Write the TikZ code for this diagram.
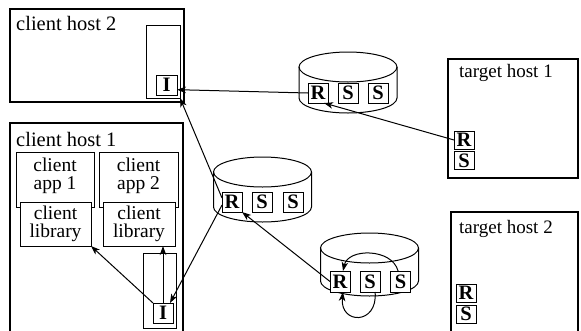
\documentclass[tikz,border=0pt]{standalone}
\usepackage{fontspec}
\setmainfont{Liberation Serif}
\usetikzlibrary{arrows.meta}
\newcommand\drumshape[3]{%
  \draw[drum] (#1,#2) ellipse [x radius=49pt, y radius=15pt];
  \draw[drum] (#1-49,#2) -- (#1-49,#3) arc[start angle=180,end angle=360,x radius=49pt,y radius=15pt] -- (#1+49,#2);
}
\begin{document}
\begin{tikzpicture}[x=1pt,y=-1pt,
 host/.style={draw,line width=1.4pt,anchor=north west,inner sep=0,outer sep=0},
 inbox/.style={draw,line width=1pt,anchor=north west,inner sep=0,outer sep=0,fill=white},
 tag/.style={draw,line width=0.9pt,fill=white,inner sep=0,outer sep=0,minimum width=20pt,minimum height=20pt,font=\fontsize{20.5}{20}\selectfont\bfseries},
 lbl/.style={anchor=base west,inner sep=0,font=\fontsize{20.5}{20}\selectfont},
 btxt/.style={align=center,inner sep=0,font=\fontsize{19.5}{18}\selectfont},
 drum/.style={line width=1pt},
 arr/.style={line width=1pt,-{Stealth[length=9pt,width=6.5pt,inset=2.5pt]}}
]
\useasboundingbox (0,0) rectangle (581,330);
\clip (0,0) rectangle (581,330);
% hosts
\node[host,minimum width=174pt,minimum height=93pt] (ch2) at (10,9) {};
\node[lbl] (ch2l) at (16,30) {client host 2};
\node[inbox,minimum width=34pt,minimum height=73pt] (c2T) at (146,25) {};
\node[tag,minimum width=21pt] (c2I) at (166.5,85) {I};

\node[host,minimum width=173pt,minimum height=230pt] (ch1) at (10,123) {};
\node[lbl] (ch1l) at (16,146) {client host 1};
\node[inbox,minimum width=78pt,minimum height=55pt] (app1) at (16,152) {};
\node[btxt] (app1t) at (55,176) {client\\app 1};
\node[inbox,minimum width=71pt,minimum height=44pt,btxt,anchor=north west] (lib1) at (20,202) {client\\library};
\node[inbox,minimum width=79pt,minimum height=55pt] (app2) at (99,152) {};
\node[btxt] (app2t) at (138.5,176) {client\\app 2};
\node[inbox,minimum width=72pt,minimum height=44pt,btxt,anchor=north west] (lib2) at (103,202) {client\\library};
\node[inbox,minimum width=33pt,minimum height=75pt] (c1T) at (143,253) {};
\node[tag] (c1I) at (163,313) {I};

\node[host,minimum width=130pt,minimum height=119pt] (th1) at (448,59) {};
\node[lbl,font=\fontsize{19}{19}\selectfont] (th1l) at (459,77) {target host 1};
\node[tag,minimum height=18pt] (t1R) at (464,140) {R};
\node[tag,minimum height=18pt] (t1S) at (464,160.5) {S};

\node[host,minimum width=127pt,minimum height=130pt] (th2) at (451,212) {};
\node[lbl,font=\fontsize{19}{19}\selectfont] (th2l) at (459,233) {target host 2};
\node[tag,minimum height=18pt] (t2R) at (466,293) {R};
\node[tag,minimum height=18pt] (t2S) at (466,314) {S};

% drums
\drumshape{348}{67}{98}
\node[tag] (aR) at (318,93) {R};
\node[tag] (aS1) at (348,93) {S};
\node[tag] (aS2) at (378,93) {S};

\drumshape{262.5}{172}{207}
\node[tag] (mR) at (232,202) {R};
\node[tag] (mS1) at (262,202) {S};
\node[tag] (mS2) at (293,202) {S};

\drumshape{369.5}{248}{281}
\node[tag,minimum height=21pt] (bR) at (340,281.5) {R};
\node[tag,minimum height=21pt] (bS1) at (370,281.5) {S};
\node[tag,minimum height=21pt] (bS2) at (400.5,281.5) {S};

% arrows
\draw[arr] (t1R.west) -- (aR.-59);
\draw[arr] (aR.west) -- (c2I.-24);
\draw[arr] (mR.158) -- (c2T.south east);
\draw[arr] (mR.197) -- (c1I.55);
\draw[arr] (bR.west) -- (mR.south east);
\draw[arr] (c1I.north west) -- (lib1.south east);
\draw[arr] (c1I.north) -- (c1I.north |- lib2.south);
\draw[arr] (bS2.103) .. controls (392,248) and (348,248) .. (bR.74);
\draw[arr] (bS1.-64) .. controls (378,325) and (340,325) .. (bR.-75);
\end{tikzpicture}
\end{document}
